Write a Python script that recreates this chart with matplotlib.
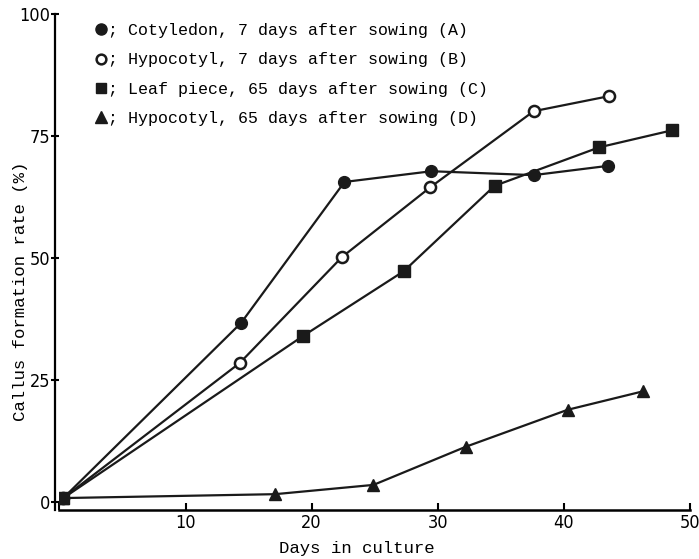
# callus formation rate vs days in culture
import matplotlib
matplotlib.use('Agg')
import matplotlib.pyplot as plt
from matplotlib.lines import Line2D

# data (days, %)
days_a = [0.3, 14.4, 22.6, 29.5, 37.6, 43.5]
rate_a = [0.8, 36.7, 65.6, 67.8, 67.0, 68.9]

days_b = [0.3, 14.3, 22.4, 29.4, 37.6, 43.6]
rate_b = [0.8, 28.5, 50.2, 64.5, 80.1, 83.2]

days_c = [0.3, 19.3, 27.3, 34.5, 42.8, 48.6]
rate_c = [0.8, 34.0, 47.3, 64.8, 72.7, 76.2]

days_d = [0.3, 17.1, 24.9, 32.2, 40.3, 46.3]
rate_d = [0.8, 1.6, 3.5, 11.3, 18.9, 22.7]

labels = ['; Cotyledon, 7 days after sowing (A)',
          '; Hypocotyl, 7 days after sowing (B)',
          '; Leaf piece, 65 days after sowing (C)',
          '; Hypocotyl, 65 days after sowing (D)']

x_ticks = [0, 10, 20, 30, 40, 50]
x_ticklabels = ['', '10', '20', '30', '40', '50']
y_ticks = [0, 25, 50, 75, 100]

mono = ['Liberation Mono', 'DejaVu Sans Mono']
ink = '#1a1a1a'

fig = plt.figure(figsize=(6.99, 5.59), dpi=100)
ax = fig.add_axes([0.0851, 0.0877, 0.902, 0.887])

lw = 1.6
ax.plot(days_a, rate_a, color=ink, lw=lw, marker='o', ms=8.5, mfc=ink, mec=ink)
ax.plot(days_b, rate_b, color=ink, lw=lw, marker='o', ms=8,
        mfc='white', mec=ink, mew=1.8)
ax.plot(days_c, rate_c, color=ink, lw=lw, marker='s', ms=8, mfc=ink, mec=ink)
ax.plot(days_d, rate_d, color=ink, lw=lw, marker='^', ms=9, mfc=ink, mec=ink)

ax.set_xlim(0, 50)
ax.set_ylim(-1.64, 100)
ax.spines['top'].set_visible(False)
ax.spines['right'].set_visible(False)
ax.spines['left'].set_linewidth(1.6)
ax.spines['bottom'].set_linewidth(1.8)
ax.spines['left'].set_position(('outward', 3.2))

ax.set_xticks(x_ticks)
ax.set_xticklabels(x_ticklabels, family='DejaVu Sans', stretch='condensed',
                   fontsize=13)
ax.set_yticks(y_ticks)
ax.set_yticklabels([str(v) for v in y_ticks], family='DejaVu Sans',
                   stretch='condensed', fontsize=13)
ax.tick_params(axis='x', direction='in', length=5, width=1.5, pad=3)
ax.tick_params(axis='y', direction='inout', length=6, width=1.5, pad=0.5)

ax.set_xlabel('Days in culture', family=mono, fontsize=12.5)
ax.xaxis.set_label_coords(0.472, -0.063)
ax.set_ylabel('Callus formation rate (%)', family=mono, fontsize=12.5)
ax.yaxis.set_label_coords(-0.05, 0.44)

# legend: marker followed by the description, no line
handles = [
    Line2D([], [], ls='none', marker='o', ms=8, mfc=ink, mec=ink),
    Line2D([], [], ls='none', marker='o', ms=7, mfc='white', mec=ink, mew=1.8),
    Line2D([], [], ls='none', marker='s', ms=7.5, mfc=ink, mec=ink),
    Line2D([], [], ls='none', marker='^', ms=8, mfc=ink, mec=ink),
]
leg = ax.legend(handles, labels, loc='upper left', bbox_to_anchor=(0.047, 0.995),
                frameon=False, handlelength=0.6, handletextpad=0.15,
                labelspacing=0.85, borderaxespad=0,
                prop={'family': mono, 'size': 12})

fig.savefig('out.png', dpi=100)
